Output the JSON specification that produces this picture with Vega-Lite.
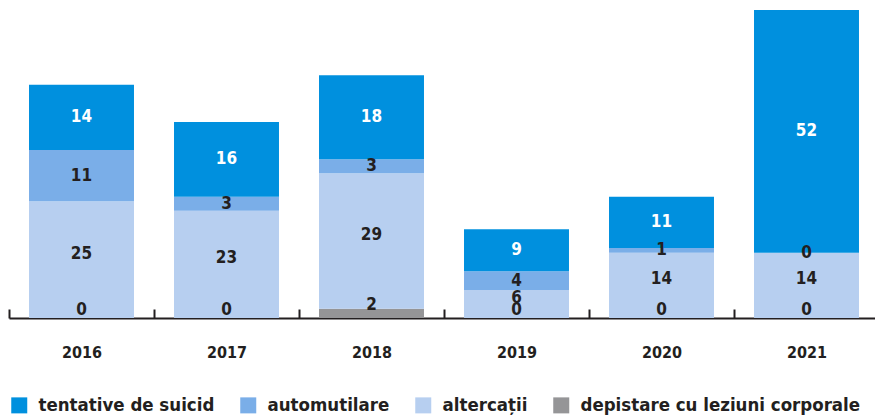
{
  "$schema": "https://vega.github.io/schema/vega-lite/v6.json",
  "width": 870,
  "height": 308,
  "autosize": {"type": "none"},
  "padding": {"left": 9, "top": 10, "right": 0, "bottom": 98},
  "background": "white",
  "config": {"view": {"stroke": null}, "font": "DejaVu Sans Condensed, Roboto Condensed, Liberation Sans Narrow, Roboto"},
  "data": {"values": [
    {"year": "2016", "cat": "depistare cu leziuni corporale", "value": 0},
    {"year": "2016", "cat": "altercații", "value": 25},
    {"year": "2016", "cat": "automutilare", "value": 11},
    {"year": "2016", "cat": "tentative de suicid", "value": 14},
    {"year": "2017", "cat": "depistare cu leziuni corporale", "value": 0},
    {"year": "2017", "cat": "altercații", "value": 23},
    {"year": "2017", "cat": "automutilare", "value": 3},
    {"year": "2017", "cat": "tentative de suicid", "value": 16},
    {"year": "2018", "cat": "depistare cu leziuni corporale", "value": 2},
    {"year": "2018", "cat": "altercații", "value": 29},
    {"year": "2018", "cat": "automutilare", "value": 3},
    {"year": "2018", "cat": "tentative de suicid", "value": 18},
    {"year": "2019", "cat": "depistare cu leziuni corporale", "value": 0},
    {"year": "2019", "cat": "altercații", "value": 6},
    {"year": "2019", "cat": "automutilare", "value": 4},
    {"year": "2019", "cat": "tentative de suicid", "value": 9},
    {"year": "2020", "cat": "depistare cu leziuni corporale", "value": 0},
    {"year": "2020", "cat": "altercații", "value": 14},
    {"year": "2020", "cat": "automutilare", "value": 1},
    {"year": "2020", "cat": "tentative de suicid", "value": 11},
    {"year": "2021", "cat": "depistare cu leziuni corporale", "value": 0},
    {"year": "2021", "cat": "altercații", "value": 14},
    {"year": "2021", "cat": "automutilare", "value": 0},
    {"year": "2021", "cat": "tentative de suicid", "value": 52}
  ]},
  "transform": [
    {"calculate": "indexof(['depistare cu leziuni corporale','altercații','automutilare','tentative de suicid'], datum.cat)", "as": "r"},
    {"stack": "value", "groupby": ["year"], "sort": [{"field": "r", "order": "ascending"}], "as": ["v0", "v1"]},
    {"calculate": "(datum.v0 + datum.v1) / 2", "as": "mid"}
  ],
  "layer": [
    {
      "mark": {"type": "bar"},
      "encoding": {
        "x": {
          "field": "year", "type": "ordinal",
          "scale": {"paddingInner": 0.276, "paddingOuter": 0.138},
          "axis": {
            "title": null, "labelAngle": 0,
            "domainColor": "#231f20", "domainWidth": 2,
            "tickColor": "#231f20", "tickWidth": 2, "tickSize": -9, "tickOffset": -72.5, "labelOffset": 72.5,
            "labelFontSize": 16, "labelFontWeight": "bold", "labelColor": "#231f20", "labelPadding": 35
          }
        },
        "y": {"field": "v0", "type": "quantitative", "scale": {"domain": [0, 66], "nice": false}, "axis": null},
        "y2": {"field": "v1"},
        "color": {
          "field": "cat", "type": "nominal",
          "scale": {
            "domain": ["tentative de suicid", "automutilare", "altercații", "depistare cu leziuni corporale"],
            "range": ["#0090de", "#7aaee8", "#b7cff0", "#959597"]
          },
          "legend": {
            "title": null, "orient": "none", "legendX": 1, "legendY": 386,
            "direction": "horizontal", "symbolType": "square", "symbolSize": 256,
            "symbolStrokeWidth": 0, "symbolOpacity": 1, "labelLimit": 500,
            "labelFontSize": 18.5, "labelFontWeight": "bold", "labelColor": "#231f20",
            "columnPadding": 24, "labelOffset": 10
          }
        }
      }
    },
    {
      "transform": [{"filter": "datum.cat === 'tentative de suicid' || datum.cat === 'automutilare'"}],
      "mark": {"type": "text", "fontSize": 17, "fontWeight": "bold", "baseline": "middle", "align": "center"},
      "encoding": {
        "x": {"field": "year", "type": "ordinal"},
        "y": {"field": "mid", "type": "quantitative"},
        "text": {"field": "value", "type": "quantitative"},
        "color": {"condition": {"test": "datum.cat === 'tentative de suicid'", "value": "white"}, "value": "#231f20"}
      }
    },
    {
      "transform": [{"filter": "datum.cat === 'altercații'"}],
      "mark": {"type": "text", "fontSize": 17, "fontWeight": "bold", "baseline": "middle", "align": "center", "dy": -6, "color": "#231f20"},
      "encoding": {
        "x": {"field": "year", "type": "ordinal"},
        "y": {"field": "mid", "type": "quantitative"},
        "text": {"field": "value", "type": "quantitative"}
      }
    },
    {
      "transform": [{"filter": "datum.cat === 'depistare cu leziuni corporale'"}],
      "mark": {"type": "text", "fontSize": 17, "fontWeight": "bold", "baseline": "middle", "align": "center", "dy": -8, "color": "#231f20"},
      "encoding": {
        "x": {"field": "year", "type": "ordinal"},
        "y": {"field": "mid", "type": "quantitative"},
        "text": {"field": "value", "type": "quantitative"}
      }
    }
  ]
}
